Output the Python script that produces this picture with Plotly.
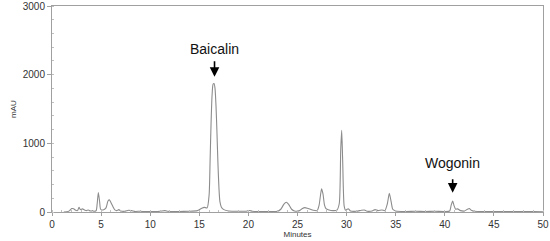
import plotly.graph_objects as go

minutes = [1.2, 1.5, 1.8, 2.0, 2.2, 2.4, 2.6, 2.75, 2.9, 3.1, 3.3, 3.5, 3.7, 3.9, 4.1, 4.3, 4.5,
           4.6, 4.72, 4.85, 4.95, 5.2, 5.5, 5.7, 5.85, 6.0, 6.2, 6.4, 6.6, 6.8, 7.0, 7.4, 7.8,
           8.1, 8.5, 9.0, 9.5, 10.0, 10.5, 11.0, 11.5, 11.8, 12.5, 13.0, 14.0, 14.8, 15.2, 15.5,
           15.8, 16.0, 16.1, 16.2, 16.3, 16.4, 16.5, 16.6, 16.7, 16.8, 16.9, 17.0, 17.1, 17.25,
           17.5, 18.0, 19.0, 19.8,
           20.1, 20.4, 21.0, 22.0, 23.0, 23.3, 23.6, 23.85, 24.1, 24.4, 24.7, 25.2, 25.5, 25.75,
           26.0, 26.3, 26.6, 27.0, 27.2, 27.45, 27.6, 27.75, 27.9, 28.2, 28.6, 29.0, 29.25, 29.4,
           29.5, 29.6, 29.75, 29.9, 30.05, 30.2, 30.4, 31.0, 31.5, 31.8, 32.1, 32.6, 32.9, 33.2,
           33.6, 33.9, 34.15, 34.35, 34.55, 34.7, 35.0, 36.0, 37.0, 38.0, 39.0, 40.0, 40.5, 40.65,
           40.8, 40.95, 41.1, 41.3, 41.6, 42.0, 42.3, 42.5, 42.7, 43.0, 44.0, 45.0, 46.0, 47.0,
           48.0, 49.0, 50.0]
mau = [0, 2, 20, 50, 48, 25, 20, 68, 35, 45, 30, 20, 30, 15, 20, 10, 20,
       120, 283, 150, 40, 30, 60, 160, 176, 140, 80, 30, 20, 35, 15, 10, 25,
       20, 8, 12, 5, 8, 5, 10, 20, 10, 5, 8, 10, 20, 50, 68,
       60, 250, 750, 1300, 1700, 1860, 1870, 1800, 1550, 1150, 700, 350, 150, 70,
       35, 15, 10, 12,
       22, 12, 8, 8, 12, 40, 110, 142, 110, 40, 15, 20, 50, 63,
       55, 40, 25, 20, 100, 337, 260, 100, 50, 30, 20, 25, 120, 900,
       1190, 750, 90, 25, 40, 45, 15, 10, 25, 30, 12, 15, 35, 20,
       30, 20, 120, 273, 140, 40, 15, 8, 10, 8, 10, 8, 15, 100,
       160, 90, 40, 45, 20, 15, 40, 50, 25, 10, 8, 5, 8, 5,
       5, 5, 3]

labels = ["Baicalin", "Wogonin"]
label_minutes = [16.55, 40.8]
arrow_tip_mau = [1970, 281]
label_text_mau = [2381, 714]

fig = go.Figure()
fig.add_trace(go.Scatter(x=minutes, y=mau, mode="lines",
                         line=dict(color="#8c8c8c", width=1.1, shape="spline", smoothing=0.6),
                         hoverinfo="skip", showlegend=False))

arrow_lengths = [17, 15]
for name, x0, ytip, ytxt, alen in zip(labels, label_minutes, arrow_tip_mau, label_text_mau, arrow_lengths):
    fig.add_annotation(x=x0, y=ytxt, xref="x", yref="y", text=name, showarrow=False,
                       font=dict(family="Liberation Sans, Arial", size=14, color="#111"))
    fig.add_annotation(x=x0, y=ytip, xref="x", yref="y", text="", showarrow=True,
                       ax=0, ay=-alen, standoff=0,
                       arrowhead=2, arrowsize=1.2, arrowwidth=1.6, arrowcolor="#000")

fig.update_layout(
    width=550, height=241,
    margin=dict(l=52, r=7, t=6, b=29),
    paper_bgcolor="white", plot_bgcolor="white",
    font=dict(family="Liberation Sans, Arial", size=10, color="#333"),
    xaxis=dict(range=[0, 50], tickvals=[0, 5, 10, 15, 20, 25, 30, 35, 40, 45, 50],
               automargin=False,
               showgrid=False, zeroline=False, showline=True, linecolor="#a0a0a0", linewidth=1,
               mirror=True, ticks="outside", ticklen=3, tickcolor="#a0a0a0",
               minor=dict(dtick=1, ticks="inside", ticklen=2, tickcolor="#c0c0c0"),
               title=dict(text="Minutes", font=dict(size=8, color="#333"), standoff=0),
               tickfont=dict(size=10, color="#333")),
    yaxis=dict(range=[0, 3000], tickvals=[0, 1000, 2000, 3000],
               automargin=False,
               showgrid=False, zeroline=False, showline=True, linecolor="#a0a0a0", linewidth=1,
               mirror=True, ticks="outside", ticklen=4, tickcolor="#a0a0a0",
               minor=dict(dtick=200, ticks="inside", ticklen=2, tickcolor="#c0c0c0"),
               title=dict(text="mAU", font=dict(size=8, color="#333"), standoff=4),
               tickfont=dict(size=10, color="#333")),
)

fig.write_html("out.html", config={"displayModeBar": False},
               post_script="document.body.style.margin='0';")
